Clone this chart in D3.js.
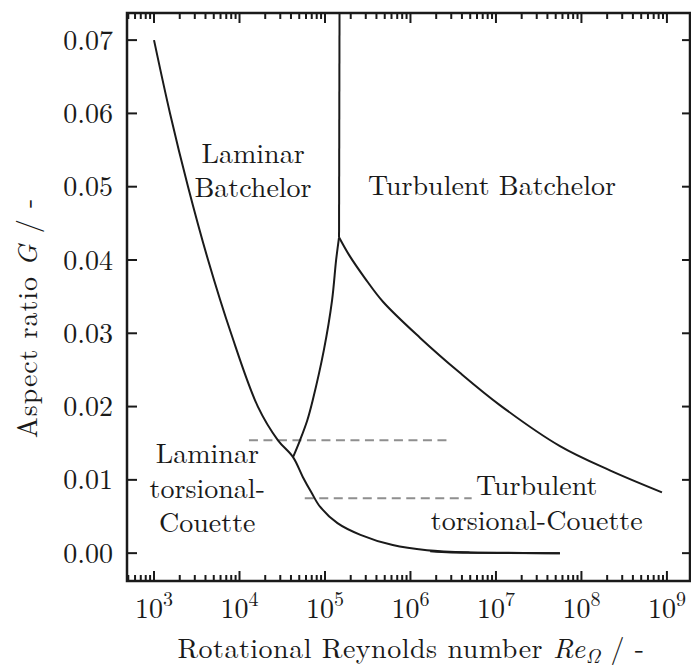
<!DOCTYPE html>
<html>
<head>
<meta charset="utf-8">
<script src="https://cdn.jsdelivr.net/npm/d3@7"></script>
<style>
  html, body { margin: 0; padding: 0; background: #fff; }
</style>
</head>
<body>
<svg id="chart" width="691" height="668"></svg>
<script>
// Regime boundaries in the (Re_Omega, G) plane
const lamRe = [1.0e3, 1.54e3, 2.50e3, 4.29e3, 7.96e3, 1.64e4, 2.82e4, 4.23e4, 5.5e4, 7.0e4, 8.8e4, 1.4e5, 2.6e5, 6.2e5, 1.56e6, 5.0e6, 5.6e7];
const lamG  = [0.0700, 0.0600, 0.0500, 0.0400, 0.0300, 0.0200, 0.0154, 0.0131, 0.0104, 0.0082, 0.0063, 0.0041, 0.0025, 0.0011, 0.0004, 0.0001, 0.0000];

const midRe = [4.23e4, 5.1e4, 6.2e4, 7.2e4, 9.7e4, 1.21e5, 1.35e5, 1.46e5];
const midG  = [0.0131, 0.0154, 0.0181, 0.0209, 0.0277, 0.0345, 0.0400, 0.0431];

const vertRe = [1.46e5, 1.48e5];
const vertG  = [0.0431, 0.0745];

const turbRe = [1.46e5, 1.91e5, 2.94e5, 4.77e5, 1.29e6, 3.79e6, 1.11e7, 5.61e7, 2.15e8, 8.75e8];
const turbG  = [0.0431, 0.0407, 0.0375, 0.0343, 0.0294, 0.0246, 0.0202, 0.0146, 0.0113, 0.0083];

const tcRe = [1.7e6, 3.0e6, 1.0e7, 5.6e7];
const tcG  = [0.00025, 0.0001, 0.00005, 0.0];

// Dashed reference levels
const dashUpRe = [1.29e4, 2.75e6];
const dashUpG  = [0.0154, 0.0154];
const dashLoRe = [5.8e4, 5.2e6];
const dashLoG  = [0.0075, 0.0075];

const yTicks = [0.00, 0.01, 0.02, 0.03, 0.04, 0.05, 0.06, 0.07];
const xExps  = [3, 4, 5, 6, 7, 8, 9];

const regionLabels = [
  { lines: ["Laminar", "Batchelor"], re: 1.44e4, g: 0.0533 },
  { lines: ["Turbulent Batchelor"], re: 9.0e6, g: 0.0488 },
  { lines: ["Laminar", "torsional-", "Couette"], re: 4.2e3, g: 0.0123 },
  { lines: ["Turbulent", "torsional-Couette"], re: 3.0e7, g: 0.0079 }
];

const FONT = "'Latin Modern Roman', 'CMU Serif', 'Liberation Serif', 'DejaVu Serif', 'Noto Serif', FreeSerif, serif";
const INK = "#1a1a1a";
const L = 127, R = 690, T = 13, B = 581;
const svg = d3.select("#chart").attr("font-family", FONT);

const x = d3.scaleLog().domain([Math.pow(10, 2.684), Math.pow(10, 9.27)]).range([L, R]);
const y = d3.scaleLinear().domain([-0.0038, 0.0737]).range([B, T]);

svg.append("defs").append("clipPath").attr("id", "plotclip")
  .append("rect").attr("x", L).attr("y", T).attr("width", R - L).attr("height", B - T);

const plot = svg.append("g").attr("clip-path", "url(#plotclip)");

function pts(res, gs) { return res.map((r, i) => [r, gs[i]]); }
const smooth = d3.line().x(d => x(d[0])).y(d => y(d[1])).curve(d3.curveCatmullRom.alpha(0.5));
const straight = d3.line().x(d => x(d[0])).y(d => y(d[1]));

// dashed levels
[[dashUpRe, dashUpG], [dashLoRe, dashLoG]].forEach(([r, g]) => {
  plot.append("path").attr("d", straight(pts(r, g)))
    .attr("fill", "none").attr("stroke", "#8f8f8f").attr("stroke-width", 2)
    .attr("stroke-dasharray", "9,5.5");
});

// boundary curves
[[lamRe, lamG], [midRe, midG], [turbRe, turbG], [tcRe, tcG]].forEach(([r, g]) => {
  plot.append("path").attr("d", smooth(pts(r, g)))
    .attr("fill", "none").attr("stroke", INK).attr("stroke-width", 2)
    .attr("stroke-linejoin", "round");
});
plot.append("path").attr("d", straight(pts(vertRe, vertG)))
  .attr("fill", "none").attr("stroke", INK).attr("stroke-width", 2);

// ticks: log minors on top and bottom, majors on both y sides
const minor = [];
for (let e = 2; e <= 9; e++) for (let m = 1; m <= 9; m++) {
  const v = m * Math.pow(10, e);
  if (x(v) >= L && x(v) <= R) minor.push({ v, major: m === 1 });
}
const tickG = svg.append("g").attr("stroke", INK).attr("stroke-width", 2);
minor.forEach(t => {
  const len = t.major ? 10 : 6;
  const xx = x(t.v);
  tickG.append("line").attr("x1", xx).attr("x2", xx).attr("y1", B).attr("y2", B - len);
  tickG.append("line").attr("x1", xx).attr("x2", xx).attr("y1", T).attr("y2", T + len);
});
yTicks.forEach(v => {
  tickG.append("line").attr("x1", L).attr("x2", L + 10).attr("y1", y(v)).attr("y2", y(v));
  tickG.append("line").attr("x1", R).attr("x2", R - 8).attr("y1", y(v)).attr("y2", y(v));
});

// frame
svg.append("rect").attr("x", L).attr("y", T).attr("width", R - L).attr("height", B - T)
  .attr("fill", "none").attr("stroke", INK).attr("stroke-width", 2.5);

// tick labels
const FS = 28;
function txt(sel) { return sel.append("text").attr("font-family", FONT).attr("fill", INK).attr("font-size", FS); }
yTicks.forEach(v => {
  txt(svg).attr("x", 113).attr("y", y(v)).attr("dy", "0.34em")
    .attr("text-anchor", "end").text(d3.format(".2f")(v));
});
xExps.forEach(e => {
  const t = txt(svg).attr("x", x(Math.pow(10, e))).attr("y", 618).attr("text-anchor", "middle");
  t.append("tspan").text("10");
  t.append("tspan").attr("font-size", 20).attr("dy", -12).text(e);
});

// axis titles
const xt = txt(svg).attr("x", 411).attr("y", 658).attr("text-anchor", "middle")
  .attr("letter-spacing", 0.5);
xt.append("tspan").text("Rotational Reynolds number ");
xt.append("tspan").attr("font-style", "italic").text("Re");
xt.append("tspan").attr("font-style", "italic").attr("font-size", 20).attr("dy", 5).text("Ω");
xt.append("tspan").attr("dy", -5).text(" / -");

const yt = txt(svg).attr("transform", "translate(37,318) rotate(-90)").attr("text-anchor", "middle")
  .attr("letter-spacing", 0.9);
yt.append("tspan").text("Aspect ratio ");
yt.append("tspan").attr("font-style", "italic").text("G");
yt.append("tspan").text(" / -");

// region labels, one text per line
regionLabels.forEach(lb => {
  lb.lines.forEach((s, i) => {
    txt(svg).attr("text-anchor", "middle")
      .attr("x", x(lb.re)).attr("y", y(lb.g) + i * 34.5).text(s);
  });
});
</script>
</body>
</html>
